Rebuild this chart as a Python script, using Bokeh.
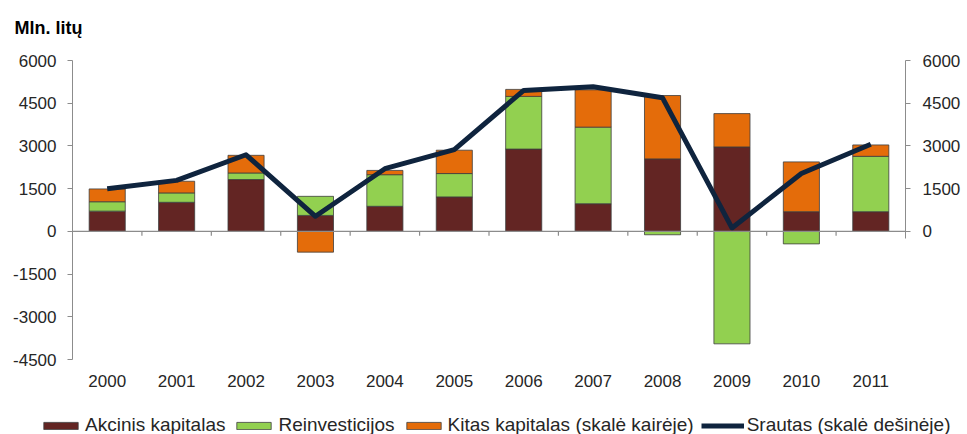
from bokeh.plotting import figure
from bokeh.models import (Range1d, LinearAxis, FixedTicker, Span, Title, Legend, LegendItem)
from bokeh.embed import file_html
from bokeh.resources import INLINE

years = ["2000", "2001", "2002", "2003", "2004", "2005", "2006", "2007", "2008", "2009", "2010", "2011"]
akcinis = [710, 1020, 1820, 560, 880, 1210, 2890, 970, 2545, 2965, 690, 690]
reinvesticijos = [330, 330, 230, 670, 1110, 820, 1850, 2690, -120, -3950, -440, 1945]
kitas = [450, 410, 620, -730, 150, 820, 245, 1310, 2225, 1170, 1750, 400]
srautas = [1500, 1790, 2690, 530, 2200, 2870, 4950, 5080, 4690, 120, 2030, 3060]
left_ticks = [-4500, -3000, -1500, 0, 1500, 3000, 4500, 6000]
right_ticks = [0, 1500, 3000, 4500, 6000]

series = [("Akcinis kapitalas", akcinis, "#632523"),
          ("Reinvesticijos", reinvesticijos, "#92D050"),
          ("Kitas kapitalas (skalė kairėje)", kitas, "#E46C0A")]
line_name = "Srautas (skalė dešinėje)"
line_color = "#0F243E"

FONT = "Liberation Sans"
TXT = "#262626"
AX = "#8c8c8c"
BAR_LINE = "#3d3d3d"

p = figure(width=967, height=400, output_backend="svg", toolbar_location=None,
           x_range=Range1d(-0.5, len(years) - 0.5), y_range=Range1d(-4500, 6000),
           min_border_left=72, min_border_right=62, min_border_top=60, min_border_bottom=41,
           x_axis_location=None, y_axis_location=None)
p.outline_line_color = None
p.xgrid.visible = False
p.ygrid.visible = False

xs = list(range(len(years)))
pos = [0.0] * len(years)
neg = [0.0] * len(years)
for name, vals, col in series:
    bottoms, tops = [], []
    for i, v in enumerate(vals):
        if v >= 0:
            bottoms.append(pos[i]); tops.append(pos[i] + v); pos[i] += v
        else:
            bottoms.append(neg[i]); tops.append(neg[i] + v); neg[i] += v
    p.vbar(x=xs, bottom=bottoms, top=tops, width=0.52, fill_color=col,
           line_color=BAR_LINE, line_width=0.8)

# zero line & category ticks
p.add_layout(Span(location=0, dimension="width", line_color=AX, line_width=1.2))
bounds_x = [i + 0.5 for i in range(len(years) - 1)]
p.segment(x0=bounds_x, y0=[0] * len(bounds_x), x1=bounds_x, y1=[-150] * len(bounds_x),
          line_color=AX, line_width=1.2)

p.line(xs, srautas, line_color=line_color, line_width=5, line_join="round")

def style_axis(ax):
    ax.axis_line_color = AX
    ax.major_tick_line_color = AX
    ax.minor_tick_line_color = None
    ax.major_tick_out = 5
    ax.major_tick_in = 0
    ax.major_label_text_font = FONT
    ax.major_label_text_font_size = "17px"
    ax.major_label_text_color = TXT

yl = LinearAxis(ticker=FixedTicker(ticks=left_ticks),
                major_label_overrides={t: str(t) for t in left_ticks})
style_axis(yl)
yl.major_label_standoff = 11
p.add_layout(yl, "left")

p.extra_y_ranges = {"right": Range1d(-4500, 6000)}
yr = LinearAxis(y_range_name="right", ticker=FixedTicker(ticks=right_ticks), bounds=(-250, 6000),
                major_label_overrides={t: str(t) for t in right_ticks})
style_axis(yr)
yr.major_label_standoff = 12
p.add_layout(yr, "right")

xa = LinearAxis(ticker=FixedTicker(ticks=xs),
                major_label_overrides={i: y for i, y in enumerate(years)})
style_axis(xa)
xa.axis_line_color = None
xa.major_tick_line_color = None
xa.major_label_standoff = 10
p.add_layout(xa, "below")

# spacer then title (stacked outward from the frame)
p.add_layout(Title(text=" ", text_font_size="6px"), "above")
p.add_layout(Title(text="Mln. litų", text_font=FONT, text_font_size="18px",
                   text_font_style="bold", text_color="#000000", align="left", offset=-58),
             "above")

# legend strip (separate root so its frame spans the full width)
lg = figure(width=967, height=34, output_backend="svg", toolbar_location=None,
            min_border=0, x_axis_location=None, y_axis_location=None)
lg.outline_line_color = None
lg.xgrid.visible = False
lg.ygrid.visible = False
items = []
for name, vals, col in series:
    r = lg.vbar(x=xs, top=vals, width=0.5, fill_color=col, line_color=BAR_LINE,
                line_width=0.8, visible=False)
    items.append(LegendItem(label=name, renderers=[r]))
lr = lg.line(x=xs, y=srautas, line_color=line_color, line_width=5, visible=False)
items.append(LegendItem(label=line_name, renderers=[lr]))
legend = Legend(items=items, location=(39, -2), orientation="horizontal",
                glyph_width=43, glyph_height=9, label_standoff=3, spacing=7,
                padding=0, margin=0, border_line_color=None, background_fill_alpha=0,
                inactive_fill_alpha=0, click_policy="none",
                label_text_font=FONT, label_text_font_size="19px", label_text_color=TXT)
lg.add_layout(legend, "center")

open("out.html", "w").write(file_html([p, lg], INLINE))
